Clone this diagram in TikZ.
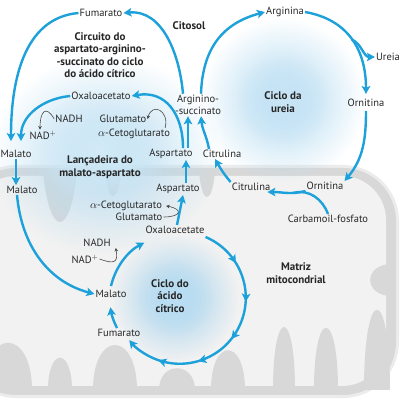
\documentclass[tikz,border=0pt]{standalone}
\usepackage{fontspec}
\setmainfont{PT Sans}
\usepackage{tikz}
\usetikzlibrary{arrows.meta,decorations.markings}
\usetikzlibrary{calc}
\usetikzlibrary{fadings}

\definecolor{flowblue}{RGB}{28,161,219}
\definecolor{glowblue}{RGB}{160,210,238}
\definecolor{mitorim}{RGB}{236,236,236}
\definecolor{mitodark}{RGB}{216,216,216}
\definecolor{mitolight}{RGB}{242,242,242}
\definecolor{cofgray}{RGB}{70,70,70}
\definecolor{txt}{RGB}{40,40,40}
\tikzfading[name=glowfade, inner color=transparent!0, outer color=transparent!100]

\begin{document}
\begin{tikzpicture}[
  x=1pt, y=1pt,
  > = {Stealth[length=8pt,width=8.5pt,inset=1.8pt]},
  lbl/.style = {font=\fontsize{10.5}{12.5}\selectfont, text=txt, inner sep=1pt},
  ttl/.style = {font=\fontsize{11}{12.5}\selectfont\bfseries, text=black!85, inner sep=1pt, align=center},
  flow/.style = {color=flowblue, line width=2.4pt, ->},
  cof/.style = {draw=cofgray, line width=.6pt, -{Stealth[length=3.5pt,width=3.5pt]}},
  crista/.style = {fill=mitodark},
  glow/.style = {fill=#1, path fading=glowfade},
  arrow inside/.style = {postaction=decorate,decoration={markings,mark=between positions .17 and .86 step .17 with {\arrow{>}}}}
  ]
  \clip (0,0) rectangle (400,400);
  \fill[white] (0,0) rectangle (400,400);

  % mitochondrion
  \fill[mitorim, rounded corners=56pt] (-40,2) rectangle (399,235);
  \fill[mitodark, rounded corners=53pt] (-37,5) rectangle (396,232);
  \fill[mitolight, rounded corners=44pt] (-28,14) rectangle (386,224);
  \foreach \cx/\w/\t in {60/17/178, 113/8/204, 207/8/203}
    \fill[crista] ({\cx-\w},228) .. controls ({\cx-0.6*\w},{228+4/3*(\t-228)}) and ({\cx+0.6*\w},{228+4/3*(\t-228)}) .. ({\cx+\w},228) -- cycle;
  \foreach \cx/\w/\t in {8/24/57, 60/12/42, 115/22/55, 177/18/32, 228/17/50, 284/11/73, 326/12/72, 377/13/90}
    \fill[crista] ({\cx-\w},10) .. controls ({\cx-\w},{10+4/3*(\t-10)}) and ({\cx+\w},{10+4/3*(\t-10)}) .. ({\cx+\w},10) -- cycle;
  \fill[crista] (392,104) .. controls ({392+4/3*(370-392)},104) and ({392+4/3*(370-392)},136) .. (392,136) -- cycle;

  % glows
  \fill[glow=glowblue!80] (105,245) ellipse [x radius=115pt, y radius=100pt];
  \fill[glow=glowblue!45] (100,250) ellipse [x radius=70pt, y radius=55pt];
  \fill[glow=glowblue!85] (283,300) circle [radius=82pt];
  \fill[glow=glowblue!55] (283,300) circle [radius=45pt];
  \fill[glow=glowblue] (175,102) circle [radius=64pt];
  \fill[glow=glowblue!70] (175,102) circle [radius=38pt];

  % cytosol
  \node[lbl] (fumC) at (101,387) {Fumarato};
  \node[ttl] (citosol) at (189,374) {Citosol};
  \node[ttl] (circuito) at (100,345) {Circuito do\\aspartato-arginino-\\-succinato do ciclo\\do ácido cítrico};
  \node[lbl] (oaaC) at (101,304) {Oxaloacetato};
  \node[lbl] (nadhC) at (69,281) {NADH};
  \node[lbl] (nadC) at (43,265) {NAD$^+$};
  \node[lbl] (gluC) at (123,281) {Glutamato};
  \node[lbl] (akgC) at (134,266) {$\alpha$-Cetoglutarato};
  \node[lbl] (malC) at (16,246) {Malato};
  \node[lbl] (aspC) at (171,246) {Aspartato};
  \node[ttl] (shuttle) at (100,233) {Lançadeira do\\malato-aspartato};
  \node[lbl, align=center] (argsuc) at (198,295) {Arginino-\\-succinato};
  \node[lbl] (citC) at (222,246) {Citrulina};
  \node[lbl] (arg) at (285,388) {Arginina};
  \node[lbl] (ureia) at (388,343) {Ureia};
  \node[ttl] (cicloU) at (283,298) {Ciclo da\\ureia};
  \node[lbl] (ornC) at (366,297) {Ornitina};

  % matrix
  \node[lbl] (malM) at (22,210) {Malato};
  \node[lbl] (aspM) at (178,211) {Aspartato};
  \node[lbl] (citM) at (251,213) {Citrulina};
  \node[lbl] (ornM) at (325,214) {Ornitina};
  \node[lbl] (carb) at (328,181) {Carbamoil-fosfato};
  \node[lbl] (akgM) at (126,194) {$\alpha$-Cetoglutarato};
  \node[lbl] (gluM) at (139,183) {Glutamato};
  \node[lbl] (oaaM) at (175,170) {Oxaloacetate};
  \node[lbl] (nadhM) at (97,157) {NADH};
  \node[lbl] (nadM) at (85,141) {NAD$^+$};
  \node[lbl] (malT) at (111,106) {Malato};
  \node[ttl] (cicloT) at (170,104) {Ciclo do\\ácido\\cítrico};
  \node[lbl] (fumM) at (119,67) {Fumarato};
  \node[ttl] (matriz) at (296,127) {Matriz\\mitocondrial};

  % aspartate-argininosuccinate shunt and shuttle
  \draw[flow] (fumC.west) to[out=185,in=90] ([xshift=-5pt,yshift=8pt]malC.north);
  \draw[flow] (oaaC.west) to[out=185,in=90] ([xshift=5pt,yshift=8pt]malC.north);
  \draw[flow] ([xshift=-15pt]argsuc.north) to[out=95,in=5] (fumC.east);
  \draw[flow] ([xshift=12pt]aspC.north) to[out=90,in=10,looseness=1.2] (oaaC.east);
  \draw[flow] ([xshift=17pt]aspC.north) -- ([xshift=17pt]aspC.north |- argsuc.south);
  \draw[cof] (nadhC.west) to[out=120,in=90,looseness=2.5] ([xshift=-3pt]nadC.north);
  \draw[cof] ([xshift=-6pt]akgC.north east) to[out=75,in=75,looseness=2.3] (gluC.east);

  % urea cycle
  \draw[flow] ([xshift=-13pt]citC.north) to[out=100,in=-85] ([xshift=3pt]argsuc.south);
  \draw[flow] ([xshift=3pt]argsuc.north) to[out=88,in=195,looseness=1.1] (arg.west);
  \draw[flow] (arg.east) to[out=-10,in=90,looseness=1.1] coordinate[pos=.5] (ubr) ([yshift=4pt]ornC.north);
  \draw[flow] (ubr) to[out=-25,in=180] (ureia.west);
  \draw[flow] ([yshift=-3pt]ornC.south) to[out=-90,in=50] (ornM.north east);
  \draw[flow] (ornM.south west) to[out=195,in=0] coordinate[pos=.3] (cpj) ([xshift=-4pt]citM.south east);
  \draw[flow, -] (carb.north) to[out=110,in=15] (cpj);
  \draw[flow] (citM.north west) to[out=130,in=-60] ([xshift=-7pt]citC.south);

  % across the membrane
  \draw[flow] (malC.south) -- (malC.south |- malM.north);
  \draw[flow] ([xshift=8pt]aspM.north) -- ([xshift=8pt]aspM.north |- aspC.south);
  \draw[flow] ([xshift=-5pt]malM.south) to[out=-85,in=165] (malT.west);
  \draw[flow] ([xshift=2pt]oaaM.north) -- ([xshift=5pt]aspM.south);
  \draw[cof] (gluM.east) to[out=0,in=-10,looseness=4] ([xshift=3pt]akgM.east);
  \draw[cof] (nadM.east) to[out=-20,in=-80,looseness=2] ([xshift=4pt]nadhM.south east);

  % citric acid cycle
  \draw[flow, arrow inside] ([yshift=-7pt]oaaM.east) arc[start angle=67, end angle=-140, radius=66pt];
  \draw[flow] ([xshift=-2pt]fumM.north) arc[start angle=-153, end angle=-172, radius=66pt];
  \draw[flow] ([yshift=3pt]malT.north) arc[start angle=167, end angle=118, radius=66pt];
\end{tikzpicture}
\end{document}
